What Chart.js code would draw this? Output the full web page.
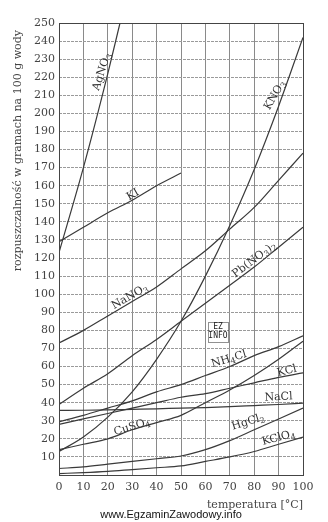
<!DOCTYPE html>
<html lang="pl">
<head>
<meta charset="UTF-8">
<title>Rozpuszczalność soli</title>
<script src="https://cdn.jsdelivr.net/npm/chart.js"></script>
<style>
    body { margin: 0; background: #fff; }
    #wrap { width: 328px; height: 522px; }
</style>
</head>
<body>
<div id="wrap"><canvas id="chart" width="328" height="522"></canvas></div>
<script>
    // temperatures in °C
    const temps = [0, 10, 20, 30, 40, 50, 60, 70, 80, 90, 100];
    const agTemps = [0, 10, 20, 25];
    const kiTemps = [0, 10, 20, 30, 40, 50];

    // solubility, g per 100 g water
    const agno3 = [123, 170, 222, 250];
    const ki = [129, 137, 145, 152, 160, 167];
    const nano3 = [73, 80, 88, 96, 104, 114, 124, 136, 148, 163, 178];
    const kno3 = [13, 21, 32, 46, 64, 85, 110, 138, 169, 204, 242];
    const pbno32 = [39, 48, 56, 66, 75, 85, 95, 105, 115, 126, 137];
    const nh4cl = [29.4, 33, 37, 41, 46, 50, 55, 60, 66, 71, 77];
    const kcl = [28, 31, 34, 37, 40, 43, 45, 48, 51, 54, 56.5];
    const nacl = [35.7, 35.8, 36, 36.3, 36.6, 37, 37.3, 37.8, 38.4, 39, 39.8];
    const cuso4 = [14, 17, 20, 25, 29, 33, 40, 47, 55, 64, 74];
    const hgcl2 = [3.6, 4.5, 6, 7.5, 9, 10.5, 14, 19, 25, 31, 37];
    const kclo4 = [0.8, 1.3, 2, 3, 4, 5, 7.5, 10, 13, 17, 21];

    const yTitle = 'rozpuszczalność w gramach na 100 g wody';
    const xTitle = 'temperatura [°C]';

    // curve labels: [temp, value, rotation deg, parts] ; "_" marks subscript
    const curveLabels = [
        [17.6, 223, -72, ['AgNO', '_3']],
        [88.5, 210, -60, ['KNO', '_3']],
        [30.3, 155, -30, ['KI']],
        [29, 98.5, -30, ['NaNO', '_3']],
        [80, 119, -37, ['Pb(NO', '_3', ')', '_2']],
        [69.7, 64, -17, ['NH', '_4', 'Cl']],
        [93.4, 57.5, -14, ['KCl']],
        [90, 43, -3, ['NaCl']],
        [29.9, 26.5, -17, ['CuSO', '_4']],
        [77.5, 29.3, -17, ['HgCl', '_2']],
        [90, 20.5, -15, ['KClO', '_4']]
    ];

    const serif = '"DejaVu Serif", serif';
    const lineCol = '#3a3a3a';

    function pts(xs, ys) {
        return ys.map((v, i) => ({ x: xs[i], y: v }));
    }

    function series(xs, ys) {
        return {
            data: pts(xs, ys),
            borderColor: lineCol,
            borderWidth: 1.2,
            pointRadius: 0,
            cubicInterpolationMode: 'monotone',
            fill: false
        };
    }

    const extras = {
        id: 'extras',
        afterDraw(chart) {
            const ctx = chart.ctx;
            const a = chart.chartArea;
            const sx = chart.scales.x, sy = chart.scales.y;
            ctx.save();
            // frame
            ctx.strokeStyle = '#444';
            ctx.lineWidth = 1;
            ctx.strokeRect(a.left + 0.5, a.top + 0.5, a.right - a.left, a.bottom - a.top);

            // axis title on the left
            ctx.save();
            ctx.translate(18, 30);
            ctx.rotate(-Math.PI / 2);
            ctx.fillStyle = '#444';
            ctx.font = '11px ' + serif;
            ctx.textAlign = 'right';
            ctx.textBaseline = 'middle';
            ctx.fillText(yTitle, 0, 0);
            ctx.restore();

            // curve labels
            ctx.fillStyle = '#333';
            ctx.textBaseline = 'middle';
            curveLabels.forEach(([t, v, rot, parts]) => {
                const x = sx.getPixelForValue(t);
                const y = sy.getPixelForValue(v);
                let w = 0;
                parts.forEach(p => {
                    ctx.font = p[0] === '_' ? '8px ' + serif : '11px ' + serif;
                    w += ctx.measureText(p.replace('_', '')).width;
                });
                ctx.save();
                ctx.translate(x, y);
                ctx.rotate(rot * Math.PI / 180);
                let cx = -w / 2;
                ctx.textAlign = 'left';
                parts.forEach(p => {
                    const sub = p[0] === '_';
                    const s = p.replace('_', '');
                    ctx.font = sub ? '8px ' + serif : '11px ' + serif;
                    ctx.fillText(s, cx, sub ? 3 : 0);
                    cx += ctx.measureText(s).width;
                });
                ctx.restore();
            });

            // small EZ INFO logo
            const lx = sx.getPixelForValue(61), rx = sx.getPixelForValue(69.3);
            const ty = sy.getPixelForValue(84.6), by = sy.getPixelForValue(73.6);
            ctx.setLineDash([1, 1]);
            ctx.strokeStyle = '#222';
            ctx.strokeRect(Math.round(lx) + 0.5, Math.round(ty) + 0.5, Math.round(rx - lx), Math.round(by - ty));
            ctx.setLineDash([]);
            ctx.fillStyle = '#222';
            ctx.font = '8px "DejaVu Sans Mono", monospace';
            ctx.textAlign = 'center';
            ctx.fillText('EZ', (lx + rx) / 2, ty + 5);
            ctx.fillText('INFO', (lx + rx) / 2, ty + 14);

            // watermark
            ctx.fillStyle = '#111';
            ctx.font = '11px "Liberation Sans", Arial, sans-serif';
            ctx.textAlign = 'center';
            ctx.fillText('www.EgzaminZawodowy.info', 171, 515);
            ctx.restore();
        }
    };

    new Chart(document.getElementById('chart'), {
        type: 'line',
        data: {
            datasets: [
                series(agTemps, agno3),
                series(kiTemps, ki),
                series(temps, nano3),
                series(temps, kno3),
                series(temps, pbno32),
                series(temps, nh4cl),
                series(temps, kcl),
                series(temps, nacl),
                series(temps, cuso4),
                series(temps, hgcl2),
                series(temps, kclo4)
            ]
        },
        options: {
            responsive: false,
            animation: false,
            layout: { padding: { top: 23, right: 25, left: 0, bottom: 0 } },
            plugins: {
                legend: { display: false },
                tooltip: { enabled: false }
            },
            scales: {
                x: {
                    type: 'linear',
                    min: 0,
                    max: 100,
                    ticks: {
                        stepSize: 10,
                        padding: 6,
                        minRotation: 0,
                        maxRotation: 0,
                        autoSkip: false,
                        color: '#444',
                        font: { family: serif, size: 11 }
                    },
                    grid: { color: '#8a8a8a', lineWidth: 1, drawTicks: false },
                    border: { display: false },
                    title: {
                        display: true,
                        text: xTitle,
                        align: 'end',
                        color: '#444',
                        font: { family: serif, size: 11 },
                        padding: { top: 0, bottom: 10 }
                    },
                    afterFit: s => { s.height = 47; }
                },
                y: {
                    min: 0,
                    max: 250,
                    ticks: {
                        stepSize: 10,
                        padding: 4,
                        color: '#444',
                        font: { family: serif, size: 11 },
                        callback: v => v === 0 ? '' : v
                    },
                    grid: { color: '#9a9a9a', lineWidth: 1, drawTicks: false },
                    border: { display: false, dash: [3, 1] },
                    afterFit: s => { s.width = 59; }
                }
            }
        },
        plugins: [extras]
    });
</script>
</body>
</html>
